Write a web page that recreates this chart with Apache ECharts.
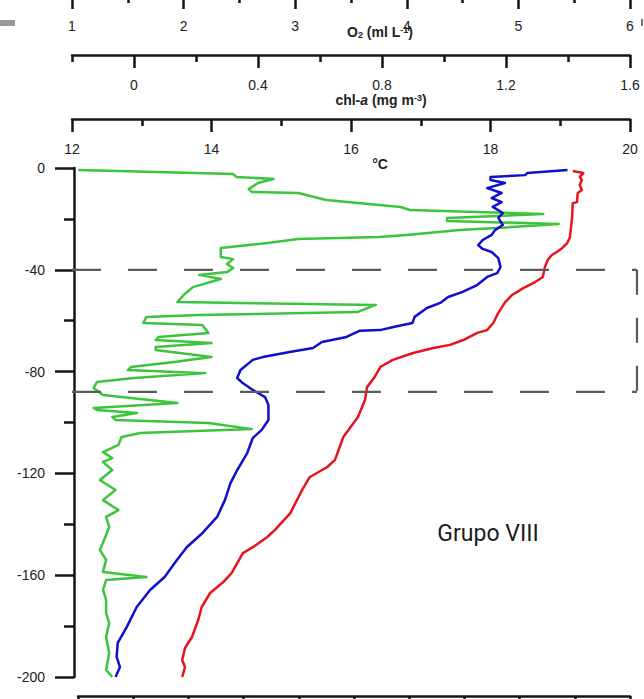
<!DOCTYPE html>
<html>
<head>
<meta charset="utf-8">
<script src="https://cdn.jsdelivr.net/npm/echarts@6/dist/echarts.min.js"></script>
<style>
  html, body { margin: 0; padding: 0; background: #fff; }
  #chart { width: 644px; height: 699px; }
</style>
</head>
<body>
<div id="chart"></div>
<script>
// Vertical profiles, each point is [value, depth in m (negative downwards)]

// Temperature (°C)
const temperatureProfile = [
  [19.18,-1.2],[19.33,-2.0],[19.28,-3.5],[19.31,-4.7],[19.28,-6.7],[19.31,-8.6],[19.25,-9.8],
  [19.24,-13.4],[19.18,-13.8],[19.17,-19.3],[19.14,-27.1],[19.10,-29.5],[19.03,-31.4],[18.95,-33.0],
  [18.88,-34.2],[18.82,-36.1],[18.78,-38.9],[18.75,-42.8],[18.64,-44.8],[18.47,-47.2],[18.31,-49.9],
  [18.21,-52.7],[18.11,-57.0],[18.04,-60.9],[17.95,-63.7],[17.81,-64.8],[17.61,-67.6],[17.42,-69.5],
  [17.18,-70.7],[16.89,-72.7],[16.60,-75.4],[16.42,-78.2],[16.34,-82.1],[16.23,-86.1],[16.20,-91.2],
  [16.10,-97.8],[15.89,-105.7],[15.77,-114.7],[15.66,-117.5],[15.41,-121.4],[15.30,-126.5],
  [15.13,-135.6],[14.91,-142.2],[14.80,-145.0],[14.60,-148.9],[14.45,-151.3],[14.29,-159.1],
  [14.17,-162.7],[13.98,-167.0],[13.86,-172.5],[13.81,-177.6],[13.72,-184.3],[13.62,-188.6],
  [13.58,-193.3],[13.62,-196.1],[13.58,-200.0]
];

// Dissolved oxygen (ml L-1)
const oxygenProfile = [
  [5.44,-0.8],[5.08,-2.0],[5.06,-2.8],[4.75,-3.5],[4.75,-4.7],[4.88,-5.9],[4.72,-7.9],[4.85,-9.8],
  [4.76,-11.8],[4.85,-13.4],[4.77,-15.3],[4.86,-17.7],[4.82,-19.6],[4.86,-22.4],[4.79,-24.4],
  [4.76,-26.3],[4.68,-28.3],[4.64,-30.3],[4.68,-31.8],[4.76,-33.0],[4.82,-35.4],[4.84,-38.9],
  [4.81,-41.3],[4.72,-42.8],[4.63,-46.0],[4.50,-48.7],[4.37,-50.7],[4.30,-53.0],[4.18,-55.0],
  [4.07,-58.5],[4.05,-60.9],[3.88,-62.5],[3.76,-63.7],[3.58,-63.9],[3.46,-66.4],[3.24,-68.4],
  [3.16,-70.7],[2.95,-72.3],[2.71,-74.3],[2.62,-75.4],[2.51,-79.4],[2.48,-82.5],[2.53,-84.5],
  [2.62,-87.2],[2.73,-90.0],[2.76,-93.1],[2.76,-99.0],[2.70,-102.9],[2.62,-106.1],[2.57,-112.0],
  [2.48,-118.7],[2.42,-123.8],[2.37,-130.5],[2.30,-137.1],[2.17,-143.4],[2.03,-148.9],[1.94,-154.0],
  [1.83,-160.7],[1.70,-165.8],[1.58,-172.5],[1.49,-180.4],[1.41,-186.6],[1.40,-192.1],[1.43,-196.1],
  [1.39,-200.0]
];

// Chlorophyll-a (mg m-3)
const chlorophyllProfile = [
  [-0.18,-0.8],[0.32,-2.4],[0.33,-3.5],[0.45,-4.3],[0.40,-5.9],[0.37,-8.3],[0.38,-9.4],[0.53,-9.8],
  [0.62,-12.6],[0.86,-15.3],[0.89,-16.5],[1.32,-18.1],[1.01,-19.6],[1.01,-20.8],[1.37,-22.0],
  [1.17,-23.6],[1.05,-24.4],[0.88,-26.3],[0.79,-27.1],[0.53,-27.9],[0.43,-29.5],[0.28,-31.4],
  [0.28,-35.0],[0.32,-35.8],[0.30,-37.7],[0.32,-39.3],[0.30,-40.9],[0.21,-42.0],[0.28,-43.6],
  [0.19,-46.8],[0.16,-49.9],[0.14,-52.7],[0.78,-53.8],[0.72,-56.6],[0.21,-57.8],[0.04,-58.5],
  [0.03,-60.9],[0.22,-61.7],[0.24,-64.8],[0.08,-66.4],[0.07,-67.6],[0.25,-68.8],[0.07,-70.3],
  [0.07,-71.5],[0.25,-74.3],[0.13,-76.2],[-0.01,-78.2],[-0.02,-79.4],[0.23,-80.6],[0.00,-82.5],
  [-0.12,-84.1],[-0.13,-86.4],[-0.10,-89.2],[0.14,-92.3],[-0.13,-94.3],[-0.12,-95.1],[0.01,-96.3],
  [-0.07,-97.8],[-0.06,-99.0],[0.24,-100.2],[0.38,-102.6],[0.02,-104.1],[-0.04,-105.7],[-0.05,-108.8],
  [-0.10,-111.6],[-0.07,-114.0],[-0.10,-115.5],[-0.07,-118.7],[-0.11,-122.6],[-0.06,-126.5],
  [-0.10,-130.5],[-0.05,-134.4],[-0.09,-137.1],[-0.08,-141.1],[-0.09,-144.2],[-0.11,-150.1],
  [-0.09,-154.0],[-0.10,-158.7],[0.04,-160.7],[-0.09,-161.9],[-0.10,-165.8],[-0.09,-169.7],
  [-0.09,-174.9],[-0.08,-178.8],[-0.09,-184.3],[-0.08,-190.6],[-0.09,-197.2],[-0.07,-200.0]
];

// Axis ticks
const chlLabelTicks = [0, 0.4, 0.8, 1.2, 1.6];
const chlMinorTicks = [-0.2, 0.2, 0.6, 1.0, 1.4];
const highlightDepths = [-40, -88];     // dashed box around this layer
const highlightTempRight = 20.1;        // right side of the box, on the °C scale

const INK = '#151515';
const LABEL_FONT = 'Liberation Sans, Arial, sans-serif';
const axisLineStyle = { color: INK, width: 2.5 };

function topAxis(extra) {
  return Object.assign({
    type: 'value',
    gridIndex: 0,
    position: 'top',
    axisLine: { show: true, onZero: false, lineStyle: axisLineStyle },
    axisTick: { show: true, inside: true, length: 13, lineStyle: axisLineStyle },
    minorTick: { show: true, splitNumber: 2, length: 7, lineStyle: axisLineStyle },
    axisLabel: { show: true, inside: true, margin: 23, fontSize: 14, color: '#222', fontFamily: LABEL_FONT },
    splitLine: { show: false },
    minorSplitLine: { show: false }
  }, extra);
}

const chart = echarts.init(document.getElementById('chart'), null, { renderer: 'svg' });

chart.setOption({
  animation: false,
  backgroundColor: '#ffffff',
  grid: [
    { left: 72, right: 14, top: 168, bottom: 22, outerBoundsMode: 'none', containLabel: false },
    { left: 78, right: 14, top: 694, height: 2, outerBoundsMode: 'none', containLabel: false }
  ],
  xAxis: [
    // 0: temperature
    topAxis({ offset: 49, min: 12, max: 20, interval: 2 }),
    // 1: chlorophyll-a
    topAxis({
      offset: 113, min: -0.2, max: 1.6,
      axisTick: { show: true, inside: true, length: 13, lineStyle: axisLineStyle, customValues: chlLabelTicks },
      minorTick: { show: false },
      axisLabel: { show: true, inside: true, margin: 23, fontSize: 14, color: '#222', fontFamily: LABEL_FONT, customValues: chlLabelTicks }
    }),
    // 2: oxygen
    topAxis({ offset: 172, min: 1, max: 6, interval: 1 }),
    // 3: short ticks of the chlorophyll-a scale
    topAxis({
      offset: 113, min: -0.2, max: 1.6,
      axisLine: { show: false, onZero: false },
      axisTick: { show: true, inside: true, length: 7, lineStyle: axisLineStyle, customValues: chlMinorTicks },
      minorTick: { show: false },
      axisLabel: { show: false }
    }),
    // 4: lower frame scale
    {
      type: 'value', gridIndex: 1, position: 'bottom', min: 0, max: 10, interval: 1,
      axisLine: { show: true, onZero: false, lineStyle: axisLineStyle },
      axisTick: { show: true, length: 8, lineStyle: axisLineStyle },
      axisLabel: { show: false },
      splitLine: { show: false }
    }
  ],
  yAxis: [
    {
      type: 'value', gridIndex: 0, position: 'left', offset: -2,
      min: -200, max: 0, interval: 40,
      axisLine: { show: true, onZero: false, lineStyle: axisLineStyle },
      axisTick: { show: true, length: 19, lineStyle: axisLineStyle },
      minorTick: { show: true, splitNumber: 2, length: 10, lineStyle: axisLineStyle },
      axisLabel: { margin: 29, fontSize: 14, color: '#222', fontFamily: LABEL_FONT },
      splitLine: { show: false },
      minorSplitLine: { show: false }
    },
    { type: 'value', gridIndex: 1, min: 0, max: 1, show: false }
  ],
  series: [
    {
      name: 'chl-a', type: 'line', xAxisIndex: 1, yAxisIndex: 0,
      data: chlorophyllProfile, symbol: 'none', showSymbol: false, clip: false,
      lineStyle: { color: '#3cc53c', width: 2.5, join: 'round' }
    },
    {
      name: 'O2', type: 'line', xAxisIndex: 2, yAxisIndex: 0,
      data: oxygenProfile, symbol: 'none', showSymbol: false, clip: false,
      lineStyle: { color: '#1010cc', width: 2.5, join: 'round' }
    },
    {
      name: '°C', type: 'line', xAxisIndex: 0, yAxisIndex: 0,
      data: temperatureProfile, symbol: 'none', showSymbol: false, clip: false,
      lineStyle: { color: '#e8141c', width: 2.5, join: 'round' }
    }
  ]
});

// Dashed box around the highlighted layer, placed through the temperature/depth scales
const px = (t, d) => chart.convertToPixel({ xAxisIndex: 0, yAxisIndex: 0 }, [t, d]);
const topLeft = px(12, highlightDepths[0]);
const topRight = px(highlightTempRight, highlightDepths[0]);
const botLeft = px(12, highlightDepths[1]);
const botRight = px(highlightTempRight, highlightDepths[1]);
const dashStyle = { stroke: '#5a5a5a', lineWidth: 2.2, lineDash: [29, 27] };

const titleFont = 'bold 14px "Liberation Sans", Arial, sans-serif';
const small = { fontSize: 9, fontWeight: 'bold', fontFamily: LABEL_FONT, fill: '#222' };

chart.setOption({
  graphic: [
    { type: 'line', z: 5, shape: { x1: topLeft[0], y1: topLeft[1], x2: topRight[0], y2: topRight[1] }, style: dashStyle },
    { type: 'line', z: 5, shape: { x1: botLeft[0], y1: botLeft[1], x2: botRight[0], y2: botRight[1] }, style: dashStyle },
    { type: 'line', z: 5, shape: { x1: topRight[0], y1: topRight[1], x2: botRight[0], y2: botRight[1] },
      style: { stroke: '#5a5a5a', lineWidth: 2.2, lineDash: [25, 23] } },
    {
      type: 'text', x: 380, y: 32, z: 10,
      style: {
        text: 'O{sub|2} (ml L{sup|-1})', font: titleFont, fill: '#222', align: 'center', verticalAlign: 'middle',
        rich: { sub: Object.assign({ verticalAlign: 'bottom' }, small), sup: Object.assign({ verticalAlign: 'top' }, small) }
      }
    },
    {
      type: 'text', x: 381, y: 100, z: 10,
      style: {
        text: 'chl-{it|a} (mg m{sup|-3})', font: titleFont, fill: '#222', align: 'center', verticalAlign: 'middle',
        rich: {
          it: { fontSize: 14, fontWeight: 'bold', fontStyle: 'italic', fontFamily: LABEL_FONT, fill: '#222' },
          sup: Object.assign({ verticalAlign: 'top' }, small)
        }
      }
    },
    {
      type: 'text', x: 380, y: 164, z: 10,
      style: { text: '°C', font: titleFont, fill: '#222', align: 'center', verticalAlign: 'middle' }
    },
    {
      type: 'text', x: 488, y: 533, z: 10,
      style: { text: 'Grupo VIII', font: '23px Roboto, "Noto Sans", sans-serif', fill: '#1a1a1a', align: 'center', verticalAlign: 'middle' }
    },
    { type: 'rect', z: 1, shape: { x: 0, y: 20, width: 15, height: 6 }, style: { fill: '#9a9a9a' } },
    { type: 'rect', z: 1, shape: { x: 641, y: 19, width: 2, height: 7 }, style: { fill: '#777' } }
  ]
});
</script>
</body>
</html>
